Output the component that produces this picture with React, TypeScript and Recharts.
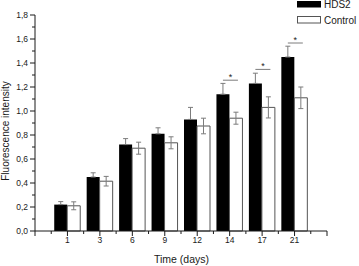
import { BarChart, Bar, XAxis, YAxis, ErrorBar, Legend, LabelList } from 'recharts';

// ─── Data ─────────────────────────────────────────────────────────────────────

const days = ['1', '3', '6', '9', '12', '14', '17', '21'];
const hds2 = [0.22, 0.45, 0.72, 0.81, 0.93, 1.14, 1.23, 1.45];
const hds2Err = [0.025, 0.035, 0.05, 0.05, 0.1, 0.09, 0.085, 0.09];
const control = [0.21, 0.415, 0.69, 0.735, 0.875, 0.94, 1.03, 1.11];
const controlErr = [0.033, 0.04, 0.05, 0.05, 0.065, 0.05, 0.088, 0.09];
const significant = [false, false, false, false, false, true, true, true];
const yTicks = [0, 0.1, 0.2, 0.3, 0.4, 0.5, 0.6, 0.7, 0.8, 0.9, 1.0, 1.1, 1.2, 1.3, 1.4, 1.5, 1.6, 1.7, 1.8];

// ─── Layout ───────────────────────────────────────────────────────────────────

const W = 359;
const H = 266;
const MARGIN = { top: 15, right: 32, bottom: 0, left: 0 };
const Y_AXIS_W = 35;
const X_AXIS_H = 35;
// the x axis runs 0..9 with the days sitting on 1..8
const UNIT = (W - MARGIN.left - MARGIN.right - Y_AXIS_W) / 9;

const FONT = '"Liberation Sans", Arial, sans-serif';
const INK = '#1a1a1a';
const GREY = '#7c7c7c';

const data = days.map((day, i) => ({
  day,
  hds2: hds2[i],
  hds2Err: [0, hds2Err[i]],
  control: control[i],
  controlErr: controlErr[i],
  mark: significant[i] ? '*' : '',
}));

// ─── Ticks ────────────────────────────────────────────────────────────────────

function XTick(props: any) {
  const { x, y, payload, index } = props;
  const major = [x];
  const minor = [x + UNIT / 2];
  if (index === 0) {
    major.push(x - UNIT);
    minor.push(x - UNIT / 2);
  }
  if (index === days.length - 1) major.push(x + UNIT);
  return (
    <g>
      {major.map((px, i) => (
        <line key={`M${i}`} x1={px} x2={px} y1={y} y2={y + 5} stroke={INK} />
      ))}
      {minor.map((px, i) => (
        <line key={`m${i}`} x1={px} x2={px} y1={y} y2={y + 3} stroke={INK} />
      ))}
      <text x={x} y={y + 11.5} textAnchor="middle" fontSize={8.5} fontFamily={FONT} fill={INK}>
        {payload.value}
      </text>
    </g>
  );
}

function YTick(props: any) {
  const { x, y, payload } = props;
  const v: number = payload.value;
  const major = Math.round(v * 10) % 2 === 0;
  return (
    <g>
      <line x1={x - (major ? 5 : 3)} x2={x} y1={y} y2={y} stroke={INK} />
      {major && (
        <text x={x - 7} y={y} dy="0.35em" textAnchor="end" fontSize={8.5} fontFamily={FONT} fill={INK}>
          {v.toFixed(1).replace('.', ',')}
        </text>
      )}
    </g>
  );
}

// ─── Significance bracket ─────────────────────────────────────────────────────

function SigMark(props: any) {
  const vb = props.viewBox ?? props;
  const { x, y, width } = vb;
  if (!props.value) return null;
  const x1 = x + width / 2;
  const x2 = x1 + 15;
  const by = y - 14;
  return (
    <g>
      <line x1={x1} x2={x2} y1={by} y2={by} stroke={GREY} />
      <text x={(x1 + x2) / 2} y={by - 0.5} textAnchor="middle" fontSize={9} fontFamily={FONT} fill={INK}>
        *
      </text>
    </g>
  );
}

// ─── Legend ───────────────────────────────────────────────────────────────────

function LegendBox() {
  return (
    <svg width={62} height={26} style={{ display: 'block' }}>
      <rect x={0} y={1} width={24} height={6.5} fill="#000" />
      <text x={27} y={8} fontSize={10} fontFamily={FONT} fill={INK}>HDS2</text>
      <rect x={0.5} y={16.5} width={23} height={6.5} fill="#fff" stroke="#555" />
      <text x={27} y={23.5} fontSize={10} fontFamily={FONT} fill={INK}>Control</text>
    </svg>
  );
}

// ─── Chart ────────────────────────────────────────────────────────────────────

export default function App() {
  return (
    <div style={{ position: 'absolute', left: 0, top: 0, width: W, height: H, background: '#fff', fontFamily: FONT }}>
      <BarChart width={W} height={H} data={data} margin={MARGIN} barSize={13} barGap={0}>
        <XAxis
          dataKey="day"
          height={X_AXIS_H}
          interval={0}
          padding={{ left: UNIT / 2, right: UNIT / 2 }}
          axisLine={{ stroke: INK }}
          tickLine={false}
          tickSize={0}
          tickMargin={0}
          tick={XTick}
          label={() => (
            <text x={181.5} y={262.5} textAnchor="middle" fontSize={10.5} fontFamily={FONT} fill={INK}>
              Time (days)
            </text>
          )}
        />
        <YAxis
          width={Y_AXIS_W}
          domain={[0, 1.8]}
          ticks={yTicks}
          interval={0}
          axisLine={{ stroke: INK }}
          tickLine={false}
          tickSize={0}
          tickMargin={0}
          tick={YTick}
          label={() => (
            <text x={9} y={131} transform="rotate(-90, 9, 131)" textAnchor="middle" fontSize={10} fontFamily={FONT} fill={INK}>
              Fluorescence intensity
            </text>
          )}
        />
        <Legend
          layout="vertical"
          align="center"
          verticalAlign="middle"
          wrapperStyle={{ top: 0, left: 296.5, width: 62, height: 26 }}
          content={() => <LegendBox />}
        />
        <Bar dataKey="hds2" name="HDS2" fill="#000" isAnimationActive={false}>
          <ErrorBar dataKey="hds2Err" width={2.5} stroke={GREY} strokeWidth={1} />
          <LabelList dataKey="mark" content={SigMark} />
        </Bar>
        <Bar dataKey="control" name="Control" fill="#fff" stroke="#555" strokeWidth={1} isAnimationActive={false}>
          <ErrorBar dataKey="controlErr" width={2.5} stroke={GREY} strokeWidth={1} />
        </Bar>
      </BarChart>
    </div>
  );
}
